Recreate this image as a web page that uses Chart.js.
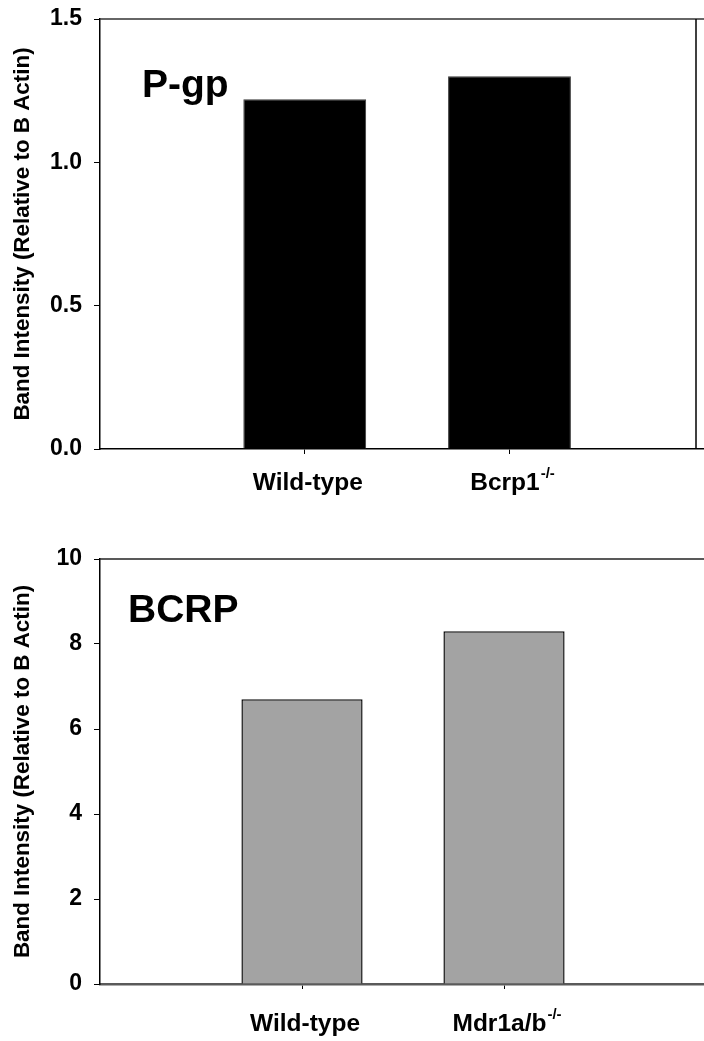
<!DOCTYPE html>
<html>
<head>
<meta charset="utf-8">
<title>Band Intensity – P-gp and BCRP</title>
<script src="https://cdn.jsdelivr.net/npm/chart.js@4/dist/chart.umd.min.js"></script>
<style>
  html, body { margin: 0; padding: 0; background: #fff; }
  #page { position: relative; width: 704px; height: 1041px; overflow: hidden; }
  .panel { position: absolute; left: 0; width: 704px; }
</style>
</head>
<body>
<div id="page">
  <div class="panel" style="top:0;height:520px"><canvas id="pgpChart" width="704" height="520"></canvas></div>
  <div class="panel" style="top:520px;height:521px"><canvas id="bcrpChart" width="704" height="521"></canvas></div>
</div>
<script>
// ---- data ----
const yTitle = "Band Intensity (Relative to B Actin)";

const pgpGroups = ["Wild-type", "Bcrp1"];
const pgpGroupSup = ["", "-/-"];
const pgpValues = [1.22, 1.30];
const pgpTicks = [0, 0.5, 1.0, 1.5];

const bcrpGroups = ["Wild-type", "Mdr1a/b"];
const bcrpGroupSup = ["", "-/-"];
const bcrpValues = [6.7, 8.3];
const bcrpTicks = [0, 2, 4, 6, 8, 10];

const FONT = '"Liberation Sans", Arial, Helvetica, sans-serif';

// Draws the frame lines, the panel name and the group names (with superscript genotype)
function makeDecor(cfg) {
  return {
    id: 'decor_' + cfg.name,
    afterDraw(chart) {
      const { ctx, chartArea: a, scales } = chart;
      ctx.save();
      // top frame line
      ctx.strokeStyle = cfg.frameColor;
      ctx.lineWidth = 1.5;
      ctx.beginPath();
      ctx.moveTo(a.left, a.top);
      ctx.lineTo(a.right, a.top);
      ctx.stroke();
      // right frame line
      if (cfg.rightFrame) {
        const xr = a.right - 8;
        ctx.strokeStyle = '#000';
        ctx.lineWidth = 1.5;
        ctx.beginPath();
        ctx.moveTo(xr, a.top);
        ctx.lineTo(xr, a.bottom);
        ctx.stroke();
      }
      // panel name
      ctx.fillStyle = '#000';
      ctx.textAlign = 'left';
      ctx.textBaseline = 'alphabetic';
      ctx.font = 'bold 39px ' + FONT;
      ctx.fillText(cfg.name, a.left + cfg.nameDx, a.top + cfg.nameDy);
      // group labels under ticks
      const baseFont = 'bold 24.5px ' + FONT;
      const supFont = 'bold 15px ' + FONT;
      const y = a.bottom + cfg.labelDy;
      cfg.groups.forEach((g, i) => {
        const xc = scales.x.getPixelForValue(i + 1);
        ctx.font = baseFont;
        const w1 = ctx.measureText(g).width;
        ctx.font = supFont;
        const sup = cfg.sups[i];
        const w2 = sup ? ctx.measureText(sup).width + 1 : 0;
        const x0 = xc - (w1 + w2) / 2 + 3;
        ctx.font = baseFont;
        ctx.fillText(g, x0, y);
        if (sup) {
          ctx.font = supFont;
          ctx.fillText(sup, x0 + w1 + 1, y - 12);
        }
      });
      ctx.restore();
    }
  };
}

function makeChart(canvasId, o) {
  return new Chart(document.getElementById(canvasId), {
    type: 'bar',
    data: {
      datasets: [{
        data: o.values.map((v, i) => ({ x: i + 1, y: v })),
        backgroundColor: o.fill,
        borderColor: o.edge,
        borderWidth: o.edgeWidth,
        barPercentage: 0.6,
        categoryPercentage: 1.0
      }]
    },
    options: {
      responsive: false,
      animation: false,
      events: [],
      layout: { padding: { top: o.padTop, left: 0, right: 0, bottom: 0 } },
      plugins: { legend: { display: false }, tooltip: { enabled: false } },
      scales: {
        x: {
          type: 'linear',
          min: 0,
          max: o.xMax,
          offset: false,
          afterBuildTicks: (s) => { s.ticks = o.groups.map((_, i) => ({ value: i + 1 })); },
          afterFit: (s) => { s.height = o.xAxisHeight; s.paddingLeft = 0; s.paddingRight = 0; },
          ticks: { display: false },
          grid: { offset: false, drawOnChartArea: false, drawTicks: true, tickLength: 5, color: '#000', tickWidth: 1 },
          border: { display: true, color: o.baseColor, width: o.baseWidth }
        },
        y: {
          min: o.ticks[0],
          max: o.ticks[o.ticks.length - 1],
          afterBuildTicks: (s) => { s.ticks = o.ticks.map(v => ({ value: v })); },
          afterFit: (s) => { s.width = 100; s.paddingTop = 0; s.paddingBottom = 0; },
          ticks: {
            padding: 12,
            color: '#000',
            font: { family: FONT, size: 23, weight: 'bold' },
            callback: (v) => o.fmt(v)
          },
          grid: { drawOnChartArea: false, drawTicks: true, tickLength: 6, color: '#000', tickWidth: 1 },
          border: { display: true, color: '#000', width: 1.5 },
          title: {
            display: true,
            text: yTitle,
            color: '#000',
            font: { family: FONT, size: 22.4, weight: 'bold' },
            padding: { top: 9, bottom: 0 }
          }
        }
      }
    },
    plugins: [makeDecor(o.decor)]
  });
}

makeChart('pgpChart', {
  values: pgpValues,
  groups: pgpGroups,
  ticks: pgpTicks,
  fmt: (v) => v.toFixed(1),
  fill: '#000000',
  edge: '#3a3a3a',
  edgeWidth: 1,
  xMax: 2.95,
  padTop: 19,
  xAxisHeight: 71,
  baseColor: '#000',
  baseWidth: 1.5,
  decor: { name: 'P-gp', groups: pgpGroups, sups: pgpGroupSup, frameColor: '#333',
           rightFrame: true, nameDx: 42, nameDy: 78, labelDy: 41 }
});

makeChart('bcrpChart', {
  values: bcrpValues,
  groups: bcrpGroups,
  ticks: bcrpTicks,
  fmt: (v) => String(v),
  fill: '#a3a3a3',
  edge: '#111111',
  edgeWidth: 1.5,
  xMax: 2.99,
  padTop: 39,
  xAxisHeight: 57,
  baseColor: '#5a5a5a',
  baseWidth: 2.5,
  decor: { name: 'BCRP', groups: bcrpGroups, sups: bcrpGroupSup, frameColor: '#222',
           rightFrame: false, nameDx: 28, nameDy: 63, labelDy: 47 }
});
</script>
</body>
</html>
